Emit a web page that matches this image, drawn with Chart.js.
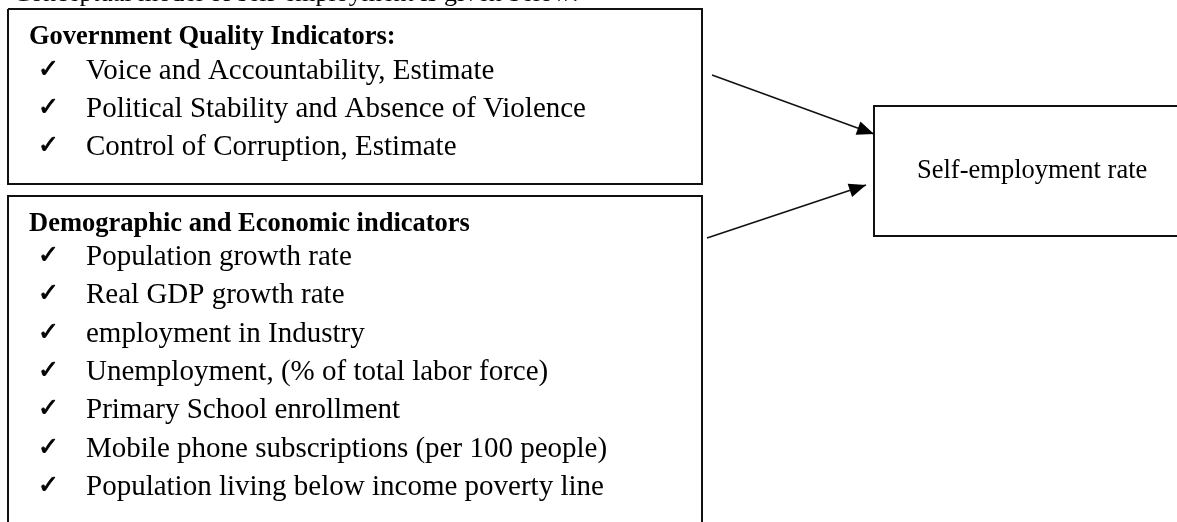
<!DOCTYPE html>
<html>
<head>
<meta charset="utf-8">
<script src="https://cdn.jsdelivr.net/npm/chart.js@4"></script>
<style>
  html, body { margin: 0; padding: 0; background: #fff; }
  #wrap { width: 1177px; height: 522px; }
</style>
</head>
<body>
<div id="wrap"><canvas id="mycanvas" width="1177" height="522"></canvas></div>
<script>
// text of the diagram
var caption = "Conceptual model of self-employment is given below:";
var groupTitles = ["Government Quality Indicators:", "Demographic and Economic indicators"];
var governmentItems = [
    "Voice and Accountability, Estimate",
    "Political Stability and Absence of Violence",
    "Control of Corruption, Estimate"
];
var demographicItems = [
    "Population growth rate",
    "Real GDP growth rate",
    "employment in Industry",
    "Unemployment, (% of total labor force)",
    "Primary School enrollment",
    "Mobile phone subscriptions (per 100 people)",
    "Population living below income poverty line"
];
var outcomeLabel = "Self-employment rate";

// box outlines and arrows, in page units (x right, y down)
var governmentBox = [{x: 8, y: 9}, {x: 702, y: 9}, {x: 702, y: 184}, {x: 8, y: 184}, {x: 8, y: 9}];
var demographicBox = [{x: 8, y: 535}, {x: 8, y: 196}, {x: 702, y: 196}, {x: 702, y: 535}];
var outcomeBox = [{x: 1190, y: 106}, {x: 874, y: 106}, {x: 874, y: 236}, {x: 1190, y: 236}];
var arrowTop = [{x: 712, y: 75}, {x: 874, y: 134}];
var arrowBottom = [{x: 707, y: 238}, {x: 866, y: 185}];

var serif = '"Liberation Serif", "Times New Roman", serif';

function lineSet(points, width) {
    return {
        data: points,
        showLine: true,
        borderColor: "#111",
        borderWidth: width,
        pointRadius: 0,
        fill: false,
        tension: 0
    };
}

var textPlugin = {
    id: "diagramText",
    afterDatasetsDraw: function(chart) {
        var ctx = chart.ctx;
        var xs = chart.scales.x, ys = chart.scales.y;
        function px(x) { return xs.getPixelForValue(x); }
        function py(y) { return ys.getPixelForValue(y); }

        // arrow heads
        [arrowTop, arrowBottom].forEach(function(a) {
            var x0 = px(a[0].x), y0 = py(a[0].y), x1 = px(a[1].x), y1 = py(a[1].y);
            var ang = Math.atan2(y1 - y0, x1 - x0);
            var len = 17, half = 7;
            ctx.save();
            ctx.translate(x1, y1);
            ctx.rotate(ang);
            ctx.beginPath();
            ctx.moveTo(0, 0);
            ctx.lineTo(-len, -half);
            ctx.lineTo(-len, half);
            ctx.closePath();
            ctx.fillStyle = "#000";
            ctx.fill();
            ctx.restore();
        });

        ctx.save();
        ctx.fillStyle = "#000";
        ctx.strokeStyle = "#000";
        ctx.textBaseline = "alphabetic";
        ctx.textAlign = "left";

        ctx.font = "26px " + serif;
        ctx.fillText(caption, px(13), py(1));

        function group(title, items, titleY, firstY, step) {
            ctx.font = "bold 26.5px " + serif;
            ctx.fillText(title, px(29), py(titleY));
            items.forEach(function(t, i) {
                var y = firstY + step * i;
                // check mark, thickened a little
                ctx.font = '25px "DejaVu Sans"';
                ctx.lineWidth = 0.9;
                ctx.fillText("\u2713", px(38), py(y - 2));
                ctx.strokeText("\u2713", px(38), py(y - 2));
                ctx.font = "29px " + serif;
                ctx.fillText(t, px(86), py(y));
            });
        }
        group(groupTitles[0], governmentItems, 44, 79, 38);
        group(groupTitles[1], demographicItems, 231, 265, 38.3);

        ctx.font = "26.5px " + serif;
        ctx.fillText(outcomeLabel, px(917), py(178));
        ctx.restore();
    }
};

var ctx = document.getElementById("mycanvas");
var diagram = new Chart(ctx, {
    type: "scatter",
    data: {
        datasets: [
            lineSet(governmentBox, 2),
            lineSet(demographicBox, 2),
            lineSet(outcomeBox, 2),
            lineSet(arrowTop, 1.5),
            lineSet(arrowBottom, 1.5)
        ]
    },
    options: {
        responsive: false,
        animation: false,
        layout: { padding: 0 },
        plugins: { legend: { display: false }, tooltip: { enabled: false } },
        scales: {
            x: { type: "linear", min: 0, max: 1177, display: false },
            y: { type: "linear", min: 0, max: 522, reverse: true, display: false }
        }
    },
    plugins: [textPlugin]
});
</script>
</body>
</html>
